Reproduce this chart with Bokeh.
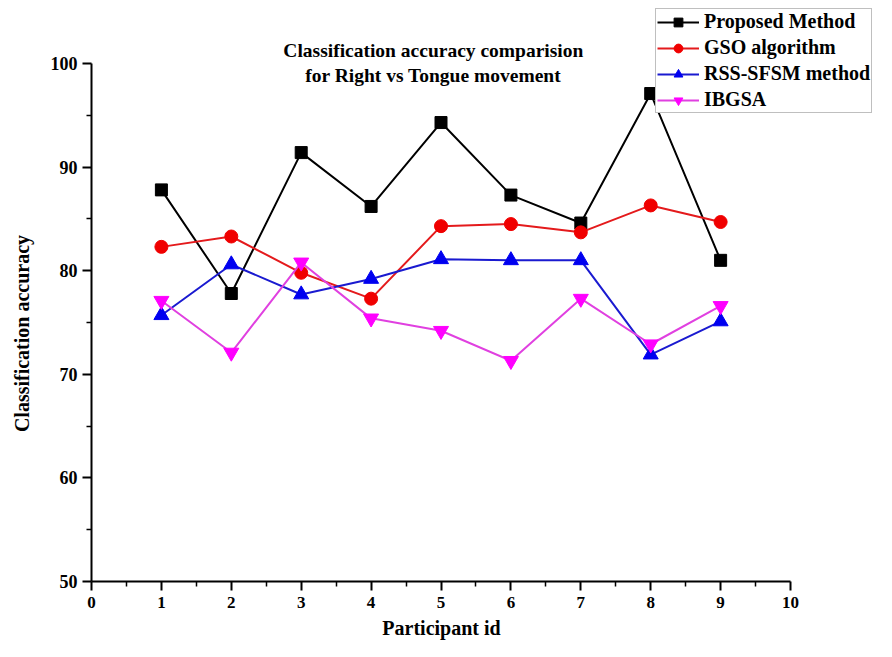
from bokeh.plotting import figure
from bokeh.models import Range1d, Label, Legend, LegendItem, FixedTicker
from bokeh.embed import file_html
from bokeh.resources import INLINE

participants = [1, 2, 3, 4, 5, 6, 7, 8, 9]
proposed = [87.8, 77.8, 91.4, 86.2, 94.3, 87.3, 84.6, 97.1, 81.0]
gso = [82.3, 83.3, 79.8, 77.3, 84.3, 84.5, 83.7, 86.3, 84.7]
rss_sfsm = [75.7, 80.6, 77.7, 79.2, 81.1, 81.0, 81.0, 71.9, 75.1]
ibgsa = [77.1, 72.1, 80.8, 75.4, 74.2, 71.3, 77.3, 72.9, 76.6]

x_ticks = list(range(0, 11))
y_ticks = [50, 60, 70, 80, 90, 100]
title_lines = ["Classification accuracy comparision", "for Right vs Tongue movement"]

FONT = "Liberation Serif"
NB = "\u00a0"

# frame extends to the right and top so legend/title are not clipped;
# axes are bounded to the data area
p = figure(width=876, height=641, output_backend="svg", toolbar_location=None,
           x_range=Range1d(0, 11.23), y_range=Range1d(50, 106.08),
           min_border_left=91, min_border_right=0, min_border_top=0, min_border_bottom=60)
p.outline_line_color = None
p.grid.visible = False
p.background_fill_color = "white"

for ax in (p.xaxis[0], p.yaxis[0]):
    ax.axis_line_width = 2
    ax.major_tick_line_width = 2
    ax.minor_tick_line_width = 1.5
    ax.major_tick_out = 9
    ax.major_tick_in = 0
    ax.minor_tick_out = 5
    ax.minor_tick_in = 0
    ax.major_label_text_font = FONT
    ax.major_label_text_font_style = "bold"
    ax.major_label_text_font_size = "17px"
    ax.major_label_text_color = "black"
    ax.axis_label_text_font = FONT
    ax.axis_label_text_font_style = "bold"
    ax.axis_label_text_font_size = "20px"
    ax.axis_label_text_color = "black"
    ax.axis_line_color = "black"
    ax.major_tick_line_color = "black"
    ax.minor_tick_line_color = "black"

p.yaxis.major_label_text_font_size = "18px"
p.xaxis.bounds = (0, 10)
p.yaxis.bounds = (50, 100)
p.xaxis.ticker = FixedTicker(ticks=x_ticks, minor_ticks=[t + 0.5 for t in x_ticks[:-1]])
p.yaxis.ticker = FixedTicker(ticks=y_ticks, minor_ticks=[t + 5 for t in y_ticks[:-1]])
p.xaxis.axis_label = "Participant id" + NB * 17
p.yaxis.axis_label = "Classification accuracy" + NB * 17
p.xaxis.major_label_standoff = 6
p.yaxis.major_label_standoff = 5
p.xaxis.axis_label_standoff = 6
p.yaxis.axis_label_standoff = 15

lw = 2
r1l = p.line(participants, proposed, line_color="black", line_width=lw)
r1m = p.scatter(participants, proposed, marker="square", size=12, color="black")
r2l = p.line(participants, gso, line_color="#e41a1c", line_width=lw)
r2m = p.scatter(participants, gso, marker="circle", size=13, color="#f00000")
r3l = p.line(participants, rss_sfsm, line_color="#1a1ad0", line_width=lw)
r3m = p.scatter(participants, rss_sfsm, marker="triangle", size=15, color="#0000f0")
r4l = p.line(participants, ibgsa, line_color="#e040e0", line_width=lw)
r4m = p.scatter(participants, ibgsa, marker="inverted_triangle", size=15, color="#ff00ff")

legend = Legend(items=[
    LegendItem(label="Proposed Method", renderers=[r1l, r1m]),
    LegendItem(label="GSO algorithm", renderers=[r2l, r2m]),
    LegendItem(label="RSS-SFSM method", renderers=[r3l, r3m]),
    LegendItem(label="IBGSA", renderers=[r4l, r4m]),
], location=(564, 468))
legend.label_text_font = FONT
legend.label_text_font_style = "bold"
legend.label_text_font_size = "20px"
legend.label_text_color = "black"
legend.glyph_width = 42
legend.glyph_height = 22
legend.label_height = 22
legend.spacing = 3
legend.padding = 1
legend.margin = 0
legend.label_standoff = 5
legend.border_line_color = "#808080"
legend.border_line_width = 1.5
legend.background_fill_alpha = 1
p.add_layout(legend, "center")

p.add_layout(Label(x=4.89, y=101.25, text=title_lines[0], text_align="center", text_baseline="middle",
                   text_font=FONT, text_font_style="bold", text_font_size="19.5px", text_color="black"))
p.add_layout(Label(x=4.89, y=98.8, text=title_lines[1], text_align="center", text_baseline="middle",
                   text_font=FONT, text_font_style="bold", text_font_size="19.5px", text_color="black"))

open("out.html", "w").write(file_html(p, INLINE))
